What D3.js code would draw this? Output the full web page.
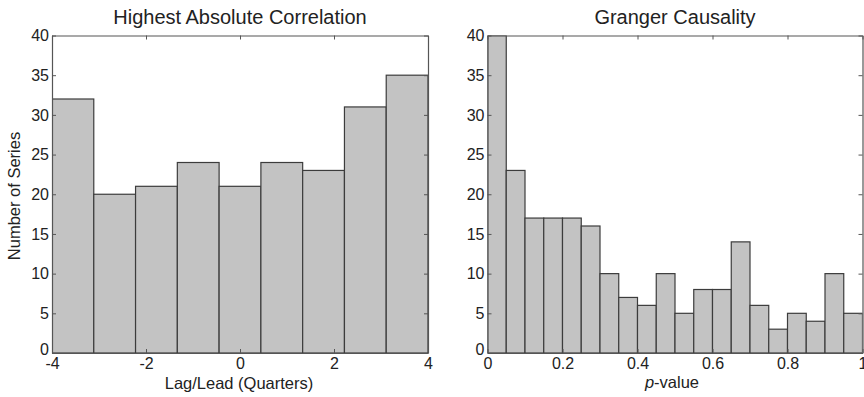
<!DOCTYPE html>
<html lang="en">
<head>
<meta charset="UTF-8">
<script src="https://d3js.org/d3.v7.min.js"></script>
<title>Histograms</title>
<style>
  body { margin: 0; background: #fff; }
  svg text { font-family: "Liberation Sans", Arial, Helvetica, sans-serif; fill: #222; }
</style>
</head>
<body>
<div id="chart"></div>
<script>
// Left panel: lag/lead of highest absolute correlation, 9 bins over [-4, 4]
const lagCounts = [32, 20, 21, 24, 21, 24, 23, 31, 35];
const lagTicks = [-4, -2, 0, 2, 4];

// Right panel: Granger causality p-values, 20 bins over [0, 1]
const pCounts = [40, 23, 17, 17, 17, 16, 10, 7, 6, 10, 5, 8, 8, 14, 6, 3, 5, 4, 10, 5];
const pTicks = [0, 0.2, 0.4, 0.6, 0.8, 1];

const yTicks = [0, 5, 10, 15, 20, 25, 30, 35, 40];

const svg = d3.select("#chart").append("svg").attr("width", 864).attr("height", 397);

const plotTop = 35.5, plotBottom = 353;
const y = d3.scaleLinear().domain([0, 40]).range([plotBottom, plotTop]);

function panel(opts) {
  const g = svg.append("g");
  const x = d3.scaleLinear().domain(opts.domain).range([opts.left, opts.right]);
  const n = opts.counts.length;
  const step = (opts.domain[1] - opts.domain[0]) / n;
  const bins = opts.counts.map((c, i) => ({ x0: opts.domain[0] + i * step, x1: opts.domain[0] + (i + 1) * step, c }));

  const clipId = "clip" + opts.id;
  svg.append("clipPath").attr("id", clipId).append("rect")
     .attr("x", opts.left).attr("y", plotTop).attr("width", opts.right - opts.left).attr("height", plotBottom - plotTop);

  g.append("g").attr("clip-path", `url(#${clipId})`).selectAll("rect").data(bins).join("rect")
    .attr("x", d => x(d.x0)).attr("width", d => x(d.x1) - x(d.x0))
    .attr("y", d => y(d.c)).attr("height", d => y(0) - y(d.c))
    .attr("fill", "#c3c3c3").attr("stroke", "#3c3c3c").attr("stroke-width", 1.2);

  // axes, MATLAB style: ticks inside, box all round
  const tick = 4;
  const ax = g.append("g").attr("transform", `translate(0,${plotBottom})`)
    .call(d3.axisBottom(x).tickValues(opts.ticks).tickSizeInner(-tick).tickSizeOuter(0).tickPadding(4.5).tickFormat(String));
  const axTop = g.append("g").attr("transform", `translate(0,${plotTop})`)
    .call(d3.axisTop(x).tickValues(opts.ticks).tickSizeInner(-tick).tickSizeOuter(0).tickFormat(""));
  const ay = g.append("g").attr("transform", `translate(${opts.left},0)`)
    .call(d3.axisLeft(y).tickValues(yTicks).tickSizeInner(-tick).tickSizeOuter(0).tickPadding(3).tickFormat(String));
  const ayR = g.append("g").attr("transform", `translate(${opts.right},0)`)
    .call(d3.axisRight(y).tickValues(yTicks).tickSizeInner(-tick).tickSizeOuter(0).tickFormat(""));
  [ax, axTop, ay, ayR].forEach(a => {
    a.selectAll("path").attr("stroke", "#555").attr("stroke-width", 1.2);
    a.selectAll("line").attr("stroke", "#555");
    a.selectAll("text").attr("font-size", 16).attr("fill", "#222")
      .style("font-family", "'Liberation Sans', Arial, sans-serif");
  });
  // the bottom "0" sits a little higher, as in the original
  ay.selectAll(".tick text").filter(d => d === 0).attr("dy", "0.1em");

  g.append("text").attr("x", (opts.left + opts.right) / 2).attr("y", 24)
    .attr("text-anchor", "middle").attr("font-size", 20).text(opts.title);

  return { g, x };
}

const L = panel({ id: "L", left: 52, right: 428, domain: [-4, 4], counts: lagCounts, ticks: lagTicks, title: "Highest Absolute Correlation" });
L.g.append("text").attr("x", 239).attr("y", 389).attr("text-anchor", "middle").attr("font-size", 16.5)
  .text("Lag/Lead (Quarters)");
L.g.append("text").attr("transform", "translate(20,196) rotate(-90)").attr("text-anchor", "middle")
  .attr("font-size", 16.5).text("Number of Series");

const R = panel({ id: "R", left: 487.5, right: 862.5, domain: [0, 1], counts: pCounts, ticks: pTicks, title: "Granger Causality" });
const pl = R.g.append("text").attr("x", 672).attr("y", 388).attr("text-anchor", "middle").attr("font-size", 16.5);
pl.append("tspan").attr("font-style", "italic").text("p");
pl.append("tspan").text("-value");
</script>
</body>
</html>
